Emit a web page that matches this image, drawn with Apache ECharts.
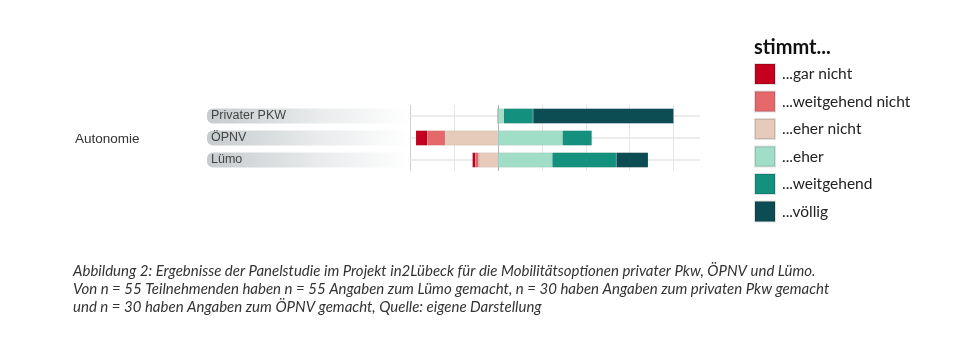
<!DOCTYPE html>
<html>
<head>
<meta charset="utf-8">
<script src="https://cdn.jsdelivr.net/npm/echarts@6/dist/echarts.min.js"></script>
<style>
  html, body { margin: 0; padding: 0; background: #fff; }
  #chart { width: 960px; height: 351px; }
</style>
</head>
<body>
<div id="chart"></div>
<script>
// Kategorien (Zeilen) und Antworten in Prozent
var rows = ["Privater PKW", "ÖPNV", "Lümo"];
var answerNames = ["...gar nicht", "...weitgehend nicht", "...eher nicht", "...eher", "...weitgehend", "...völlig"];
var answerColors = ["#c4001e", "#e5696b", "#e6cbba", "#a0dec8", "#14907f", "#0b4d53"];

var garNicht = [0, 6.7, 1.8];
var weitgehendNicht = [0, 10.0, 1.8];
var eherNicht = [0, 30.0, 10.9];
var eher = [3.3, 36.7, 30.9];
var weitgehend = [16.7, 16.7, 36.4];
var voellig = [80.0, 0, 18.2];

var xTicks = [-50, -25, 0, 25, 50, 75, 100];
var labelBox = [1, 1, 1];

var caption = "Abbildung 2: Ergebnisse der Panelstudie im Projekt in2Lübeck für die Mobilitätsoptionen privater Pkw, ÖPNV und Lümo.\n" +
    "Von n = 55 Teilnehmenden haben n = 55 Angaben zum Lümo gemacht, n = 30 haben Angaben zum privaten Pkw gemacht\n" +
    "und n = 30 haben Angaben zum ÖPNV gemacht, Quelle: eigene Darstellung";

var chart = echarts.init(document.getElementById("chart"));

/*
 * negative Werte (ablehnend) links von 0, Reihenfolge von innen nach aussen
 * */
function neg(arr) {
    return arr.map(function (v) { return -v; });
}

function stackSeries(name, data, color) {
    return {
        name: name,
        type: "bar",
        stack: "total",
        xAxisIndex: 0,
        yAxisIndex: 0,
        barWidth: 15,
        z: 3,
        itemStyle: {color: color, borderColor: "rgba(0,0,0,0.12)", borderWidth: 0.5},
        emphasis: {disabled: true},
        data: data
    };
}

var splitColors = ["#cfcfcf", "#e6e6e6", "#b5b5b5", "#e6e6e6", "#e6e6e6", "#e6e6e6", "#e6e6e6", "rgba(0,0,0,0)"];

var option = {
    animation: false,
    backgroundColor: "#fff",
    title: [
        {
            text: "stimmt...",
            left: 754, top: 38, padding: 0,
            textStyle: {fontFamily: "Lato", fontSize: 20, fontWeight: "bold", color: "#111"}
        },
        {
            text: "Autonomie",
            left: 75, top: 132, padding: 0,
            textStyle: {fontFamily: "Liberation Sans", fontSize: 13.5, fontWeight: "normal", color: "#333"}
        },
        {
            text: caption,
            left: 73, top: 262, padding: 0,
            textStyle: {
                fontFamily: "Lato", fontSize: 15, fontStyle: "italic", fontWeight: "normal",
                color: "#333", lineHeight: 18
            }
        }
    ],
    legend: {
        orient: "vertical",
        left: 754, top: 63, padding: 0,
        itemWidth: 20, itemHeight: 20, itemGap: 5.5,
        icon: "rect",
        selectedMode: false,
        data: answerNames,
        textStyle: {fontFamily: "Lato", fontSize: 15.5, color: "#222", padding: [0, 0, 0, 2]}
    },
    grid: [
        {left: 410, width: 290, top: 105, height: 66},
        {left: 207, width: 203, top: 105, height: 66}
    ],
    xAxis: [
        {
            gridIndex: 0, type: "value", min: -50, max: 115, interval: 25,
            axisLine: {show: false}, axisTick: {show: false}, axisLabel: {show: false},
            splitLine: {show: true, lineStyle: {color: splitColors, width: 1}}
        },
        {
            gridIndex: 1, type: "value", min: 0, max: 1,
            axisLine: {show: false}, axisTick: {show: false}, axisLabel: {show: false},
            splitLine: {show: false}
        }
    ],
    yAxis: [
        {
            gridIndex: 0, type: "category", data: rows, inverse: true,
            axisLine: {show: false}, axisTick: {show: false}, axisLabel: {show: false},
            splitLine: {show: false}
        },
        {
            gridIndex: 1, type: "category", data: rows, inverse: true,
            axisLine: {show: false}, axisTick: {show: false}, axisLabel: {show: false},
            splitLine: {show: false}
        }
    ],
    series: [
        // Hilfslinien durch die Zeilenmitten
        {
            type: "line",
            xAxisIndex: 0, yAxisIndex: 0,
            z: 1,
            data: [],
            markLine: {
                silent: true,
                z: 1,
                symbol: "none",
                label: {show: false},
                lineStyle: {color: "#e6e6e6", type: "solid", width: 1.5},
                data: rows.map(function (r) { return {yAxis: r}; })
            }
        },
        // Beschriftungsfelder mit Verlauf
        {
            type: "bar",
            xAxisIndex: 1, yAxisIndex: 1,
            barWidth: 15,
            silent: true,
            itemStyle: {
                borderRadius: 6,
                color: new echarts.graphic.LinearGradient(0, 0, 1, 0, [
                    {offset: 0, color: "#c6cbcd"},
                    {offset: 0.55, color: "#e9ebec"},
                    {offset: 1, color: "#ffffff"}
                ])
            },
            label: {
                show: true, position: "insideLeft", distance: 4,
                formatter: "{b}",
                fontFamily: "Liberation Sans", fontSize: 12.5, color: "#444"
            },
            data: labelBox
        },
        stackSeries(answerNames[2], neg(eherNicht), answerColors[2]),
        stackSeries(answerNames[1], neg(weitgehendNicht), answerColors[1]),
        stackSeries(answerNames[0], neg(garNicht), answerColors[0]),
        stackSeries(answerNames[3], eher, answerColors[3]),
        stackSeries(answerNames[4], weitgehend, answerColors[4]),
        stackSeries(answerNames[5], voellig, answerColors[5])
    ]
};

chart.setOption(option);
</script>
</body>
</html>
